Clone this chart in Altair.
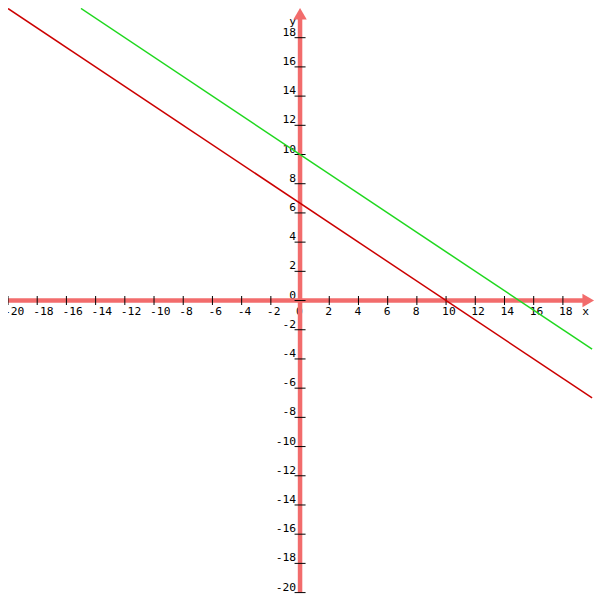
import altair as alt
import pandas as pd

# ---- data ----
# two straight lines (end points where they leave the grid)
red_x = [-20, 20]
red_y = [20.0, -6.67]
green_x = [-15, 20]
green_y = [20.0, -3.33]

# tick values along each axis
x_ticks = [-20, -18, -16, -14, -12, -10, -8, -6, -4, -2, 0, 2, 4, 6, 8, 10, 12, 14, 16, 18]
y_ticks = [-20, -18, -16, -14, -12, -10, -8, -6, -4, -2, 0, 2, 4, 6, 8, 10, 12, 14, 16, 18]

# axis start and axis names
axis_from = -20
x_name = "x"
y_name = "y"

# ---- layout: reference page mapped uniformly into the drawable area ----
W = 592
H = 586
MARGIN = 8
S = 0.9735                     # fit factor (reference page -> drawable area)
PX = 15.0 * S                  # pixels per unit
X0 = MARGIN + 300.0 * S        # page x of x=0
Y0 = MARGIN + 300.5 * S        # page y of y=0
XMIN = (MARGIN - X0) / PX
XMAX = XMIN + W / PX
YMAX = (Y0 - MARGIN) / PX
YMIN = YMAX - H / PX

xs = alt.Scale(domain=[XMIN, XMAX], nice=False, zero=False)
ys = alt.Scale(domain=[YMIN, YMAX], nice=False, zero=False)

PINK = "#f26c6c"
RED = "#cc0000"
GREEN = "#1fd81f"
FONT = "DejaVu Sans Mono"
FS = 11.3

ARROW_SIZE = 180
ARROW_HALF = 0.866 * (ARROW_SIZE ** 0.5) / 2 / PX     # half length in data units
x_tip = (MARGIN + 602 * S - X0) / PX
y_tip = YMAX
x_arrow = x_tip - ARROW_HALF
y_arrow = y_tip - ARROW_HALF


def X(field="x"):
    return alt.X(f"{field}:Q", scale=xs, axis=None)


def Y(field="y"):
    return alt.Y(f"{field}:Q", scale=ys, axis=None)


xlab_df = pd.DataFrame({"x": x_ticks, "y": [0] * len(x_ticks), "t": [str(v) for v in x_ticks]})
ylab_df = pd.DataFrame({"x": [0] * len(y_ticks), "y": y_ticks, "t": [str(v) for v in y_ticks]})

x_labels = alt.Chart(xlab_df).mark_text(
    align="left", baseline="alphabetic", dx=-4, dy=14, font=FONT, fontSize=FS, color="black"
).encode(x=X(), y=Y(), text="t:N")

y_labels = alt.Chart(ylab_df).mark_text(
    align="right", baseline="alphabetic", dx=-4, dy=-2, font=FONT, fontSize=FS, color="black"
).encode(x=X(), y=Y(), text="t:N")

xname = alt.Chart(pd.DataFrame({"x": [19.33], "y": [0], "t": [x_name]})).mark_text(
    align="left", baseline="alphabetic", dx=0, dy=14, font=FONT, fontSize=FS, color="black"
).encode(x=X(), y=Y(), text="t:N")

yname = alt.Chart(pd.DataFrame({"x": [0], "y": [18.87], "t": [y_name]})).mark_text(
    align="right", baseline="alphabetic", dx=-4, dy=0, font=FONT, fontSize=FS, color="black"
).encode(x=X(), y=Y(), text="t:N")

x_axis = alt.Chart(pd.DataFrame({"x": [axis_from], "x2": [x_arrow], "y": [0]})).mark_rule(
    color=PINK, strokeWidth=4.5
).encode(x=X(), x2="x2:Q", y=Y())

y_axis = alt.Chart(pd.DataFrame({"x": [0], "y": [axis_from], "y2": [y_arrow]})).mark_rule(
    color=PINK, strokeWidth=4.5
).encode(x=X(), y=Y(), y2="y2:Q")

xt_df = pd.DataFrame({"x": [v for v in x_ticks if v != 0], "y": 0})
yt_df = pd.DataFrame({"x": 0, "y": y_ticks})

x_tick_marks = alt.Chart(xt_df).mark_tick(
    orient="vertical", size=9, thickness=1, color="black", opacity=1
).encode(x=X(), y=Y())

y_tick_marks = alt.Chart(yt_df).mark_tick(
    orient="horizontal", size=11, thickness=1, color="black", opacity=1
).encode(x=X(), y=Y())

arrow_x_mark = alt.Chart(pd.DataFrame({"x": [x_arrow], "y": [0]})).mark_point(
    shape="triangle-right", filled=True, size=ARROW_SIZE, color=PINK, opacity=1
).encode(x=X(), y=Y())

arrow_y_mark = alt.Chart(pd.DataFrame({"x": [0], "y": [y_arrow]})).mark_point(
    shape="triangle-up", filled=True, size=ARROW_SIZE, color=PINK, opacity=1
).encode(x=X(), y=Y())

red_line = alt.Chart(pd.DataFrame({"x": red_x, "y": red_y})).mark_line(
    color=RED, strokeWidth=1.5, clip=True
).encode(x=X(), y=Y())

green_line = alt.Chart(pd.DataFrame({"x": green_x, "y": green_y})).mark_line(
    color=GREEN, strokeWidth=1.5, clip=True
).encode(x=X(), y=Y())

chart = alt.layer(
    x_labels, y_labels, xname, yname,
    x_axis, y_axis, x_tick_marks, y_tick_marks, arrow_x_mark, arrow_y_mark,
    red_line, green_line,
).properties(
    width=W, height=H,
    autosize=alt.AutoSizeParams(type="none"),
    padding={"left": 0, "top": 0, "right": 0, "bottom": 0},
    background="white",
).configure_view(stroke=None)

chart.save("out.html", embed_options={"renderer": "svg", "actions": False})
